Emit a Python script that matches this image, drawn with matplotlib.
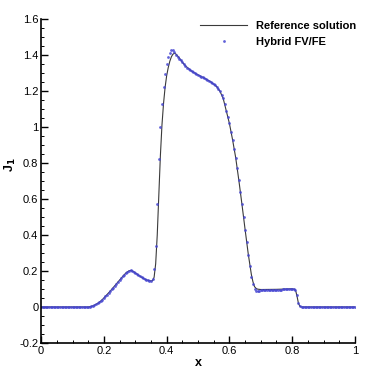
import numpy as np
import matplotlib
matplotlib.use("Agg")
import matplotlib.pyplot as plt
from matplotlib.ticker import MultipleLocator

plt.rcParams["font.family"] = ["Liberation Sans", "DejaVu Sans"]

# hybrid FV/FE solution on a uniform grid, dx = 0.005
hyb_x = np.linspace(0.0, 1.0, 201)
hyb_y = [
    0, 0, 0, 0, 0, 0, 0, 0, 0, 0,
    0, 0, 0, 0, 0, 0, 0, 0, 0, 0,
    0, 0, 0, 0, 0, 0, 0, 0, 0, 0,
    0, 0.001, 0.003, 0.006, 0.010, 0.015, 0.020, 0.026, 0.033, 0.041,
    0.050, 0.059, 0.068, 0.078, 0.088, 0.098, 0.108, 0.118, 0.129, 0.139,
    0.150, 0.160, 0.170, 0.180, 0.189, 0.196, 0.201, 0.203, 0.201, 0.197,
    0.190, 0.184, 0.177, 0.171, 0.165, 0.160, 0.155, 0.151, 0.148, 0.146,
    0.146, 0.155, 0.209, 0.339, 0.572, 0.824, 1.000, 1.130, 1.224, 1.294,
    1.348, 1.390, 1.413, 1.428, 1.426, 1.415, 1.402, 1.390, 1.380, 1.370,
    1.360, 1.350, 1.340, 1.330, 1.322, 1.315, 1.310, 1.305, 1.300, 1.295,
    1.290, 1.285, 1.280, 1.276, 1.272, 1.267, 1.262, 1.257, 1.252, 1.246,
    1.240, 1.233, 1.224, 1.213, 1.198, 1.180, 1.160, 1.130, 1.090, 1.055,
    1.020, 0.975, 0.930, 0.880, 0.830, 0.770, 0.705, 0.640, 0.570, 0.500,
    0.430, 0.360, 0.290, 0.225, 0.165, 0.125, 0.100, 0.088, 0.086, 0.089,
    0.092, 0.093, 0.093, 0.094, 0.094, 0.095, 0.095, 0.095, 0.096, 0.096,
    0.096, 0.097, 0.097, 0.097, 0.098, 0.098, 0.098, 0.099, 0.099, 0.100,
    0.100, 0.100, 0.092, 0.066, 0.022, 0.003, 0, 0, 0, 0,
    0, 0, 0, 0, 0, 0, 0, 0, 0, 0,
    0, 0, 0, 0, 0, 0, 0, 0, 0, 0,
    0, 0, 0, 0, 0, 0, 0, 0, 0, 0,
    0,
]

# reference solution
ref_x = [0, 0.15, 0.16, 0.17, 0.18, 0.19, 0.2, 0.22, 0.24, 0.26,
         0.27, 0.28, 0.285, 0.29, 0.3, 0.31, 0.32, 0.33, 0.34, 0.35,
         0.355, 0.36, 0.365, 0.37, 0.375, 0.38, 0.385, 0.39, 0.395, 0.4,
         0.405, 0.41, 0.415, 0.42, 0.425, 0.43, 0.44, 0.45, 0.46, 0.48,
         0.5, 0.52, 0.54, 0.56, 0.57, 0.58, 0.59, 0.6, 0.61, 0.62,
         0.63, 0.64, 0.65, 0.66, 0.67, 0.675, 0.68, 0.685, 0.69, 0.7,
         0.75, 0.8, 0.808, 0.812, 0.816, 0.82, 0.825, 0.83, 1.0]
ref_y = [0, 0, 0.003, 0.01, 0.02, 0.033, 0.05, 0.088, 0.129, 0.17,
         0.189, 0.201, 0.203, 0.201, 0.19, 0.177, 0.165, 0.155, 0.148, 0.145,
         0.146, 0.165, 0.24, 0.40, 0.62, 0.84, 1.01, 1.13, 1.22, 1.285,
         1.33, 1.365, 1.39, 1.405, 1.41, 1.405, 1.385, 1.36, 1.34, 1.31,
         1.29, 1.272, 1.252, 1.224, 1.198, 1.16, 1.09, 1.02, 0.93, 0.83,
         0.705, 0.57, 0.43, 0.295, 0.18, 0.14, 0.113, 0.103, 0.099, 0.097,
         0.098, 0.101, 0.098, 0.085, 0.055, 0.02, 0.003, 0, 0]

fig = plt.figure(figsize=(3.74, 3.74), dpi=100)
ax = fig.add_axes([0.110, 0.083, 0.839, 0.866])

ax.plot(ref_x, ref_y, color="#3a3a3a", linewidth=0.8, label="Reference solution")
ax.plot(hyb_x, hyb_y, linestyle="none", marker="o", markersize=2.0,
        markeredgewidth=0, color="#4646d2", alpha=0.85, label="Hybrid FV/FE")

ax.set_xlim(0, 1)
ax.set_ylim(-0.2, 1.6)
ax.xaxis.set_major_locator(MultipleLocator(0.2))
ax.xaxis.set_minor_locator(MultipleLocator(0.05))
ax.yaxis.set_major_locator(MultipleLocator(0.2))
ax.yaxis.set_minor_locator(MultipleLocator(0.05))
ax.xaxis.set_major_formatter(plt.FuncFormatter(lambda v, p: f"{v:g}"))
ax.yaxis.set_major_formatter(plt.FuncFormatter(lambda v, p: f"{v:g}"))

for s in ["top", "right"]:
    ax.spines[s].set_visible(False)
for s in ["left", "bottom"]:
    ax.spines[s].set_linewidth(1.2)

ax.tick_params(which="major", direction="in", length=5, width=1.0,
               labelsize=8, pad=2)
ax.tick_params(which="minor", direction="in", length=2.5, width=0.7)

ax.set_xlabel("x", fontsize=9, fontweight="bold", labelpad=1)
ax.set_ylabel(r"J$_\mathbf{1}$", fontsize=9, fontweight="bold")
ax.yaxis.set_label_coords(-0.075, 0.55)

ax.legend(loc="upper right", bbox_to_anchor=(1.025, 1.015), frameon=False,
          handlelength=4.2, borderaxespad=0.2, labelspacing=0.55,
          handletextpad=0.8, prop={"weight": "bold", "size": 8})

fig.savefig("out.png", dpi=100)
